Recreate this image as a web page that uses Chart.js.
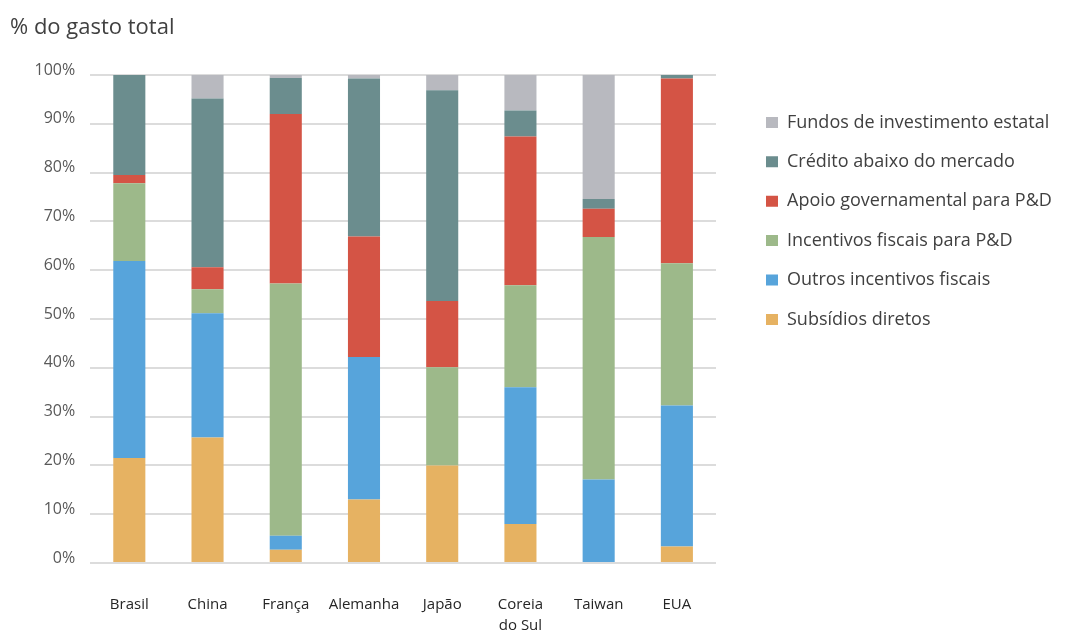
<!DOCTYPE html>
<html>
<head>
<meta charset="utf-8">
<script src="https://cdn.jsdelivr.net/npm/chart.js@4.4.1/dist/chart.umd.min.js"></script>
<style>
html,body{margin:0;padding:0;background:#fff;}
#wrap{width:1085px;height:636px;position:relative;}
</style>
</head>
<body>
<div id="wrap"><canvas id="c" width="1085" height="636"></canvas></div>
<script>
// ---- data ----
const categories = ['Brasil', 'China', 'França', 'Alemanha', 'Japão', ['Coreia', 'do Sul'], 'Taiwan', 'EUA'];
const subsidiosDiretos       = [21.5, 25.7,  2.7, 13.0, 20.0,  8.0,  0.0,  3.4];
const outrosIncentivos       = [40.4, 25.5,  2.9, 29.2,  0.0, 28.0, 17.1, 28.9];
const incentivosFiscaisPD    = [15.9,  4.9, 51.7,  0.0, 20.1, 20.9, 49.7, 29.1];
const apoioGovernamentalPD   = [ 1.7,  4.5, 34.7, 24.7, 13.6, 30.5,  5.8, 37.9];
const creditoAbaixoMercado   = [20.5, 34.6,  7.4, 32.4, 43.2,  5.3,  2.0,  0.7];
const fundosInvestimento     = [ 0.0,  4.8,  0.6,  0.7,  3.1,  7.3, 25.4,  0.0];
const seriesNames = ['Subsídios diretos', 'Outros incentivos fiscais', 'Incentivos fiscais para P&D',
                     'Apoio governamental para P&D', 'Crédito abaixo do mercado', 'Fundos de investimento estatal'];
const yTickValues = [0, 10, 20, 30, 40, 50, 60, 70, 80, 90, 100];
const titleText = '% do gasto total';

// ---- styles ----
const colors = ['#E6B262', '#57A4DB', '#9DB98A', '#D45445', '#6B8D8E', '#B8B9BF'];
const FONT = '"Open Sans", "DejaVu Sans", sans-serif';
const legendFontSize = 18;
const legendPad = 21.4;
const legendBox = 12;

// measure legend text so the legend lands where the reference has it
const mctx = document.createElement('canvas').getContext('2d');
mctx.font = legendFontSize + 'px ' + FONT;
const maxText = Math.max(...seriesNames.map(s => mctx.measureText(s).width));
const legendWidth = legendPad + legendBox + legendFontSize / 2 + maxText + 10;
const legendLeft = 766 - legendPad;
const padRight = Math.max(0, 1085 - legendLeft - legendWidth);
const gapWidth = legendLeft - 716;

const seriesData = [subsidiosDiretos, outrosIncentivos, incentivosFiscaisPD, apoioGovernamentalPD, creditoAbaixoMercado, fundosInvestimento];
const datasets = seriesData.map((d, i) => ({
  label: seriesNames[i],
  data: d,
  backgroundColor: colors[i],
  borderWidth: 0,
  barPercentage: 0.41,
  categoryPercentage: 1.0
}));

new Chart(document.getElementById('c'), {
  type: 'bar',
  data: { labels: categories, datasets },
  options: {
    responsive: false,
    animation: false,
    layout: { padding: { left: 10, right: padRight, top: 0, bottom: 0 } },
    plugins: {
      title: {
        display: true, text: titleText, align: 'start', color: '#404040',
        font: { family: FONT, size: 22, weight: 'normal' },
        padding: { top: 15, bottom: 33.6 }
      },
      legend: {
        position: 'right', align: 'start', reverse: true, fullSize: false, maxWidth: 500,
        title: { display: true, text: '', font: { size: 10 }, padding: { top: 2.5, bottom: 2.5 } },
        labels: {
          boxWidth: legendBox, boxHeight: 11, padding: legendPad, color: '#404040',
          font: { family: FONT, size: legendFontSize }
        }
      },
      tooltip: { enabled: false }
    },
    scales: {
      x: {
        stacked: true,
        grid: { display: false, drawTicks: false },
        border: { display: false },
        ticks: { color: '#262626', font: { family: FONT, size: 15, lineHeight: 1.35 }, padding: 32, maxRotation: 0, autoSkip: false },
        afterFit: s => { s.height = 73; }
      },
      y: {
        stacked: true, min: 0, max: 100,
        afterBuildTicks: s => { s.ticks = yTickValues.map(v => ({ value: v })); },
        grid: { color: '#DCDCDC', lineWidth: 2, drawTicks: false },
        border: { display: false },
        ticks: { color: '#595959', font: { family: FONT, size: 16 }, padding: 15, labelOffset: -5, callback: v => v + '%' },
        afterFit: s => { s.width = 80.2; }
      },
      gap: {
        type: 'linear', position: 'right', display: true,
        grid: { display: false, drawTicks: false },
        border: { display: false },
        ticks: { display: false },
        afterFit: s => { s.width = gapWidth; }
      }
    }
  }
});
</script>
</body>
</html>
